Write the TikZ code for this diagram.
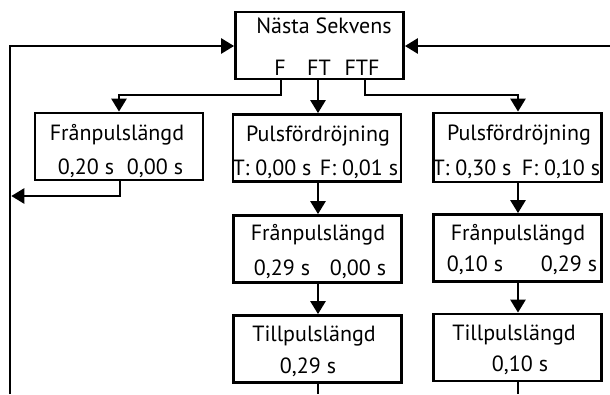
\documentclass[tikz,border=0pt]{standalone}
\usepackage{fontspec}
\setmainfont{PT Sans}
\usetikzlibrary{arrows.meta}
\begin{document}
\begin{tikzpicture}[x=1pt,y=-1pt,
  box/.style={draw,line width=2.8pt,minimum width=168pt,minimum height=67pt,inner sep=0pt},
  lbl/.style={font=\fontsize{22}{24}\selectfont,inner sep=0pt,anchor=base},
  wire/.style={line width=2.7pt},
  arr/.style={wire,-{Triangle[width=15pt,length=13pt]}}]
\useasboundingbox (0,0) rectangle (610,394);

% boxes
\node[box] (top) at (319.5,45.5) {};
\node[box] (b1) at (119,146.5) {};
\node[box] (b2) at (317,148) {};
\node[box,minimum height=69pt] (b3) at (517.5,147.5) {};
\node[box] (b4) at (317.5,249) {};
\node[box] (b5) at (517.5,248) {};
\node[box] (b6) at (317.5,349) {};
\node[box] (b7) at (517.5,347.5) {};

% texts
\node[lbl] (t0) at (324,33) {Nästa Sekvens};
\node[lbl] (tF) at (280,75) {F};
\node[lbl] (tFT) at (319,75) {FT};
\node[lbl] (tFTF) at (362,75) {FTF};

\node[lbl] (t1) at (117,140) {Frånpulslängd};
\node[lbl] (v1a) at (86,174) {0,20 s};
\node[lbl] (v1b) at (155,174) {0,00 s};

\node[lbl] (t2) at (318,141) {Pulsfördröjning};
\node[lbl] (v2a) at (272,175) {T: 0,00 s};
\node[lbl] (v2b) at (359,175) {F: 0,01 s};

\node[lbl] (t3) at (519,140) {Pulsfördröjning};
\node[lbl] (v3a) at (472,175) {T: 0,30 s};
\node[lbl] (v3b) at (561,175) {F: 0,10 s};

\node[lbl] (t4) at (318,240) {Frånpulslängd};
\node[lbl] (v4a) at (282,275) {0,29 s};
\node[lbl] (v4b) at (358,275) {0,00 s};

\node[lbl] (t5) at (518,240) {Frånpulslängd};
\node[lbl] (v5a) at (475,271) {0,10 s};
\node[lbl] (v5b) at (569,271) {0,29 s};

\node[lbl] (t6) at (314,341) {Tillpulslängd};
\node[lbl] (v6) at (308,373) {0,29 s};

\node[lbl] (t7) at (514,340) {Tillpulslängd};
\node[lbl] (v7) at (520,371) {0,10 s};

% branch points under the top box
\coordinate (oF) at (281,79);
\coordinate (oFTF) at (365,79);
\coordinate (lx) at (10,394);
\coordinate (rx) at (610,46);

% outputs of the top box
\draw[arr] (oF) -- ++(0,16) -| (b1.north);
\draw[arr] (top.south -| 318,0) -- (b2.north -| 318,0);
\draw[arr] (oFTF) -- ++(0,16) -| (b3.north -| 518,0);

% column 2
\draw[arr] (b2.south -| 318,0) -- (b4.north -| 318,0);
\draw[arr] (b4.south -| 318,0) -- (b6.north -| 318,0);
\draw[wire] (b6.south -| 318,0) -- (318,394);

% column 3
\draw[arr] (b3.south -| 518,0) -- (b5.north -| 518,0);
\draw[arr] (b5.south -| 518,0) -- (b7.north -| 518,0);
\draw[wire] (b7.south -| 518,0) -- (518,394);

% return paths
\draw[arr] (b1.south -| 120,0) |- (11.3,196);
\draw[arr] (lx) |- (top.west |- 0,46);
\draw[arr] (rx) -- (top.east |- 0,46);
\end{tikzpicture}
\end{document}
